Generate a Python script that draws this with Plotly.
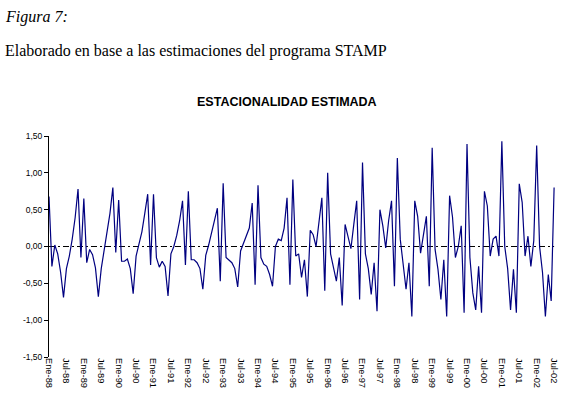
import plotly.graph_objects as go

# Seasonal component, monthly from Ene-88 to Jul-02
y1988 = [0.68, -0.27, 0.02, -0.10, -0.35, -0.69, -0.30, -0.13, 0.10, 0.39, 0.78, -0.15]
y1989 = [0.65, -0.22, -0.04, -0.11, -0.29, -0.68, -0.30, -0.05, 0.16, 0.45, 0.80, -0.08]
y1990 = [0.63, -0.20, -0.20, -0.17, -0.30, -0.64, -0.13, 0.02, 0.20, 0.45, 0.71, -0.25]
y1991 = [0.71, -0.15, -0.28, -0.20, -0.27, -0.67, -0.10, 0.00, 0.15, 0.35, 0.62, -0.25]
y1992 = [0.75, -0.18, -0.18, -0.22, -0.30, -0.58, -0.12, 0.02, 0.20, 0.35, 0.52, -0.47]
y1993 = [0.86, -0.15, -0.18, -0.22, -0.30, -0.55, -0.06, 0.05, 0.16, 0.25, 0.59, -0.52]
y1994 = [0.83, -0.15, -0.24, -0.27, -0.38, -0.54, 0.00, 0.10, 0.08, 0.25, 0.66, -0.52]
y1995 = [0.91, -0.13, -0.10, -0.42, -0.18, -0.68, 0.22, 0.16, 0.00, 0.30, 0.66, -0.60]
y1996 = [1.00, -0.10, -0.30, -0.47, -0.15, -0.80, 0.30, 0.15, -0.03, 0.30, 0.62, -0.72]
y1997 = [1.14, -0.10, -0.30, -0.65, -0.22, -0.88, 0.50, 0.28, -0.02, 0.35, 0.62, -0.54]
y1998 = [1.20, 0.10, -0.22, -0.58, -0.22, -0.95, 0.62, 0.41, -0.09, 0.18, 0.41, -0.54]
y1999 = [1.34, -0.04, -0.31, -0.72, -0.18, -0.95, 0.69, 0.40, -0.15, 0.00, 0.28, -0.90]
y2000 = [1.39, -0.15, -0.63, -0.86, -0.27, -0.90, 0.75, 0.55, -0.13, 0.10, 0.14, -0.13]
y2001 = [1.43, 0.00, -0.30, -0.86, -0.31, -0.90, 0.85, 0.60, -0.13, 0.14, -0.27, 0.08]
y2002 = [1.37, 0.00, -0.35, -0.95, -0.38, -0.74, 0.80]

values = (y1988 + y1989 + y1990 + y1991 + y1992 + y1993 + y1994 + y1995 +
          y1996 + y1997 + y1998 + y1999 + y2000 + y2001 + y2002)

years = ["88", "89", "90", "91", "92", "93", "94", "95", "96", "97", "98", "99", "00", "01", "02"]
tick_labels = []
for yy in years:
    tick_labels.append("Ene-" + yy)
    tick_labels.append("Jul-" + yy)

y_ticks = [-1.5, -1.0, -0.5, 0.0, 0.5, 1.0, 1.5]
y_tick_text = ["-1,50", "-1,00", "-0,50", "0,00", "0,50", "1,00", "1,50"]

n = len(values)
x = list(range(n))
tick_vals = [6 * k for k in range(len(tick_labels))]

fig = go.Figure()
fig.add_trace(go.Scatter(x=x, y=values, mode="lines",
                         line=dict(color="#000080", width=1.2),
                         hoverinfo="skip", showlegend=False, cliponaxis=False))

fig.add_shape(type="line", xref="x", yref="y", x0=0, x1=n - 1, y0=0, y1=0,
              line=dict(color="black", width=1, dash="6px,3px,2px,3px"), layer="below")

W, H = 565, 395
L, T, B = 49, 136, 38
month_px = 2.905
x_max = n  # one spare month on the right so the last tick label is kept
R = W - L - month_px * x_max
pw = W - L - R
ph = H - T - B

def px(xp):
    return (xp - L) / pw

def py(yp):
    return (H - B - yp) / ph

fig.update_layout(
    width=W, height=H,
    margin=dict(l=L, r=R, t=T, b=B, pad=0, autoexpand=False),
    paper_bgcolor="white", plot_bgcolor="white",
    xaxis=dict(range=[0, x_max], tickmode="array", tickvals=tick_vals, ticktext=tick_labels,
               tickangle=90, showgrid=False, zeroline=False, showline=False, ticks="",
               automargin=False,
               tickfont=dict(family="Arial, Liberation Sans", size=9.3, color="black")),
    yaxis=dict(range=[-1.5, 1.5], tickmode="array", tickvals=y_ticks, ticktext=y_tick_text,
               showgrid=False, zeroline=False, showline=True, linecolor="black", linewidth=1,
               ticks="outside", ticklen=4, tickcolor="black", tickwidth=1, automargin=False,
               tickfont=dict(family="Arial, Liberation Sans", size=8.5, color="black")),
    annotations=[
        dict(text="<i>Figura 7:</i>", x=px(3), y=py(6), xref="paper", yref="paper",
             xanchor="left", yanchor="top", showarrow=False,
             font=dict(family="Times New Roman, Liberation Serif", size=16, color="black")),
        dict(text="Elaborado en base a las estimaciones del programa STAMP", x=px(3), y=py(40),
             xref="paper", yref="paper", xanchor="left", yanchor="top", showarrow=False,
             font=dict(family="Times New Roman, Liberation Serif", size=16, color="black")),
        dict(text="<b>ESTACIONALIDAD ESTIMADA</b>", x=px(287), y=py(102), xref="paper", yref="paper",
             xanchor="center", yanchor="middle", showarrow=False,
             font=dict(family="Arial, Liberation Sans", size=12.5, color="black")),
    ],
)

fig.write_html("out.html", config={"displayModeBar": False},
               post_script="document.body.style.margin='0px';")
